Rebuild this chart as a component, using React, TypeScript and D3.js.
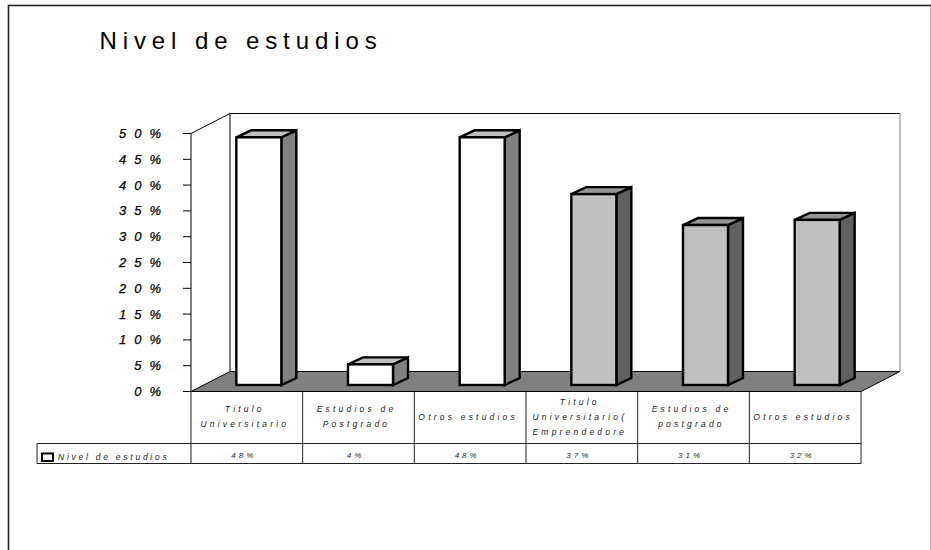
import React from "react";
import * as d3 from "d3";

const categories = [
  ["Titulo", "Universitario"],
  ["Estudios de", "Postgrado"],
  ["Otros estudios"],
  ["Titulo", "Universitario(", "Emprendedore"],
  ["Estudios de", "postgrado"],
  ["Otros estudios"],
];
const values = [48, 4, 48, 37, 31, 32];
const valueLabels = ["48%", "4%", "48%", "37%", "31%", "32%"];
const groups = ["e", "e", "e", "n", "n", "n"];
const yTicks = [0, 5, 10, 15, 20, 25, 30, 35, 40, 45, 50];
const title = "Nivel de estudios";
const seriesName = "Nivel de estudios";

const W = 931;
const H = 550;
const DX = 39; // depth of the floor
const DY = 20;
const BAR_W = 45;

const y = d3.scaleLinear().domain([0, 50]).range([391.5, 133.5]);
const x = d3.scaleBand<number>().domain(d3.range(values.length)).range([191, 861]);

const faces: Record<string, { front: string; top: string; side: string }> = {
  e: { front: "#ffffff", top: "#c0c0c0", side: "#808080" },
  n: { front: "#c0c0c0", top: "#969696", side: "#606060" },
};

const FONT = '"Liberation Sans", Arial, sans-serif';

const App: React.FC = () => {
  const line = d3.line();
  const tableBottom = 463.5;
  const headerBottom = 443.5;
  const baseY = y(0);

  return (
    <svg width={W} height={H} style={{ position: "absolute", left: 0, top: 0 }} fontFamily={FONT}>
      <rect x={8.5} y={5.5} width={W - 8} height={H} fill="#fff" stroke="#222" strokeWidth={1.6} />
      <text x={99.5} y={49} fontSize={24} letterSpacing={5.9} fill="#000">
        {title}
      </text>

      {/* walls and floor */}
      <path d={line([[191, y(50)], [191 + DX, y(50) - DY], [900, y(50) - DY]])!} fill="none" stroke="#000" />
      <path d={line([[900, y(50) - DY], [900, baseY - DY]])!} fill="none" stroke="#808080" />
      <path d={line([[191 + DX, y(50) - DY], [191 + DX, baseY - DY]])!} fill="none" stroke="#000" />
      <path
        d={line([[191, baseY], [191 + DX, baseY - DY], [900, baseY - DY], [861, baseY]])! + "Z"}
        fill="#808080"
        stroke="#000"
      />

      {/* y axis */}
      <line x1={191} x2={191} y1={y(50)} y2={baseY} stroke="#000" />
      {yTicks.map((t) => (
        <g key={t}>
          <line x1={183} x2={191} y1={y(t)} y2={y(t)} stroke="#000" />
          <text
            x={169}
            y={y(t) + 4.5}
            textAnchor="end"
            fontSize={13}
            fontStyle="italic"
            letterSpacing={8}
            stroke="#000"
            strokeWidth={0.25}
            fill="#000"
          >
            {`${t}%`}
          </text>
        </g>
      ))}

      {/* bars */}
      {values.map((v, i) => {
        const left = x(i)! + x.bandwidth() / 2 - BAR_W / 2 + 12;
        const right = left + BAR_W;
        const bottom = baseY - 6.5;
        const top = bottom - (baseY - y(v));
        const c = faces[groups[i]];
        const dx = 15;
        const dy = 7;
        return (
          <g key={i} stroke="#000" strokeWidth={2.4} strokeLinejoin="miter">
            <path d={line([[right, top], [right + dx, top - dy], [right + dx, bottom - dy], [right, bottom]])! + "Z"} fill={c.side} />
            <path d={line([[left, top], [left + dx, top - dy], [right + dx, top - dy], [right, top]])! + "Z"} fill={c.top} />
            <rect x={left} y={top} width={BAR_W} height={bottom - top} fill={c.front} />
          </g>
        );
      })}

      {/* data table */}
      <line x1={191} x2={861} y1={baseY} y2={baseY} stroke="#000" />
      <line x1={37} x2={861} y1={headerBottom} y2={headerBottom} stroke="#222" strokeWidth={1.2} />
      <line x1={37} x2={861} y1={tableBottom} y2={tableBottom} stroke="#222" />
      <line x1={37} x2={37} y1={headerBottom} y2={tableBottom} stroke="#222" />
      {d3.range(values.length + 1).map((i) => {
        const xx = i < values.length ? x(i)! : 861;
        return <line key={i} x1={xx} x2={xx} y1={baseY} y2={tableBottom} stroke="#222" />;
      })}
      {categories.map((lines, i) => {
        const cx = x(i)! + x.bandwidth() / 2;
        const mid = (baseY + headerBottom) / 2 + 2;
        const startY = mid - ((lines.length - 1) * 15) / 2;
        return (
          <g key={i}>
            <text fontSize={8.5} fontStyle="italic" letterSpacing={3.2} textAnchor="middle" fill="#222">
              {lines.map((l, j) => (
                <tspan key={j} x={cx - 2} y={startY + j * 15}>
                  {l}
                </tspan>
              ))}
            </text>
            <text
              x={cx - 3}
              y={458}
              fontSize={8}
              fontStyle="italic"
              letterSpacing={3}
              textAnchor="middle"
              fill="#222"
            >
              {valueLabels[i]}
            </text>
          </g>
        );
      })}
      <rect x={42} y={453.5} width={11} height={7.5} fill="#fff" stroke="#000" strokeWidth={2} />
      <text x={58} y={460} fontSize={8.5} fontStyle="italic" letterSpacing={2.75} fill="#222">
        {seriesName}
      </text>
    </svg>
  );
};

export default App;
